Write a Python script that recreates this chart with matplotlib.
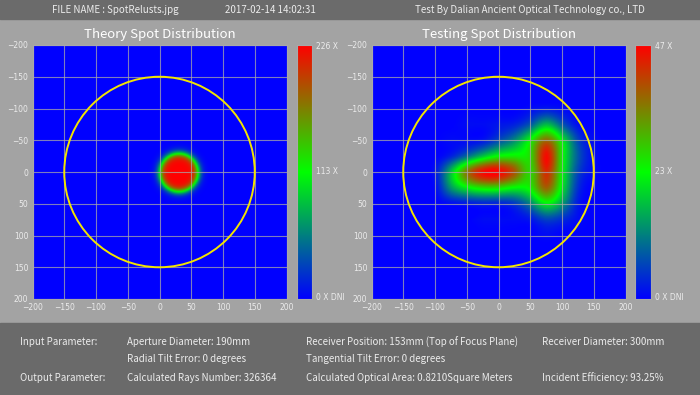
import numpy as np
import matplotlib
matplotlib.use("Agg")
import matplotlib.pyplot as plt
from matplotlib.colors import LinearSegmentedColormap
from matplotlib.patches import Rectangle, Circle

# --- data ------------------------------------------------------------------
axis_ticks = [-200, -150, -100, -50, 0, 50, 100, 150, 200]
receiver_radius = 150

theory_max = 226
theory_center = (30, 1)
theory_half_radius = 30      # where the level drops to half
theory_edge_width = 3.5

testing_max = 47
# measured level (x DNI) sampled every 25 mm; everything outside is 0
testing_x = [-125, -100, -75, -50, -25, 0, 25, 50, 75, 100, 125, 150]
testing_y = [-100, -75, -50, -25, 0, 25, 50, 75, 100]
testing_levels = [
    [0, 0, 0,  0,  0,  0,  0,  1,  2,  1, 0, 0],
    [0, 0, 0,  1,  1,  2,  3,  8, 17,  8, 1, 0],
    [0, 0, 1,  1,  2,  7, 13, 24, 37, 22, 6, 1],
    [0, 0, 3, 10, 18, 24, 25, 27, 46, 24, 8, 1],
    [0, 2, 18, 36, 46, 48, 39, 27, 43, 23, 6, 1],
    [0, 1, 14, 22, 26, 26, 23, 25, 38, 21, 4, 0],
    [0, 0, 1,  2,  3,  3,  5, 12, 22, 14, 2, 0],
    [0, 0, 0,  0,  1,  1,  1,  2,  6,  4, 1, 0],
    [0, 0, 0,  0,  0,  0,  0,  0,  1,  0, 0, 0],
]

header = ["FILE NAME : SpotRelusts.jpg", "2017-02-14 14:02:31",
          "Test By Dalian Ancient Optical Technology co., LTD"]
titles = ["Theory Spot Distribution", "Testing Spot Distribution"]
params = [
    ["Input Parameter:", "Aperture Diameter: 190mm",
     "Receiver Position: 153mm (Top of Focus Plane)", "Receiver Diameter: 300mm"],
    ["", "Radial Tilt Error: 0 degrees", "Tangential Tilt Error: 0 degrees", ""],
    ["Output Parameter:", "Calculated Rays Number: 326364",
     "Calculated Optical Area: 0.8210Square Meters", "Incident Efficiency: 93.25%"],
]

# --- fields -----------------------------------------------------------------
g = np.linspace(-200, 200, 401)
X, Y = np.meshgrid(g, g)
r = np.hypot(X - theory_center[0], Y - theory_center[1])
theory = theory_max / (1 + np.exp((r - theory_half_radius) / theory_edge_width))
theory_extent = [-200, 200, 200, -200]

step = 25
full = np.arange(-200, 201, step)
testing = np.zeros((len(full), len(full)))
i0 = list(full).index(testing_y[0])
j0 = list(full).index(testing_x[0])
testing[i0:i0 + len(testing_y), j0:j0 + len(testing_x)] = testing_levels
half = step / 2
testing_extent = [-200 - half, 200 + half, 200 + half, -200 - half]

cmap = LinearSegmentedColormap.from_list("bgr", [(0, 0, 1), (0, 1, 0), (1, 0, 0)])

BG = "#a3a3a3"
BAR = "#6b6b6b"
TXT = "#ececec"
GRID = "#a8a8a8"

fig = plt.figure(figsize=(7, 3.95), dpi=100, facecolor=BG)
fig.patches.append(Rectangle((0, 1 - 19 / 395), 1, 19 / 395, transform=fig.transFigure,
                             color=BAR, zorder=0))
fig.patches.append(Rectangle((0, 0), 1, 72 / 395, transform=fig.transFigure,
                             color="#6a6a6a", zorder=0))

hx = [52, 225, 415]
for x, s in zip(hx, header):
    fig.text(x / 700, 1 - 10 / 395, s, color=TXT, fontsize=7, va="center",
             family="Noto Sans CJK SC")


def panel(ax_rect, cb_rect, data, extent, interp, vmax, title, cb_labels):
    ax = fig.add_axes(ax_rect)
    ax.set_facecolor("blue")
    ax.imshow(np.clip(data, 0, vmax), cmap=cmap, vmin=0, vmax=vmax, extent=extent,
              origin="upper", interpolation=interp, zorder=0)
    ax.set_xlim(-200, 200)
    ax.set_ylim(200, -200)
    ax.set_xticks(axis_ticks)
    ax.set_yticks(axis_ticks)
    ax.grid(True, color=GRID, lw=0.8, alpha=0.75)
    ax.set_axisbelow(False)
    ax.tick_params(length=0, labelsize=5.5, labelcolor=TXT, pad=3)
    for sp in ax.spines.values():
        sp.set_color(GRID)
        sp.set_linewidth(0.8)
    ax.add_patch(Circle((0, 0), receiver_radius, fill=False, ec="#f2e400", lw=1.4, zorder=3))
    ax.set_title(title, color="white", fontsize=9.5, pad=5, family="Noto Sans CJK SC")

    cax = fig.add_axes(cb_rect)
    cax.imshow(np.linspace(vmax, 0, 256)[:, None], cmap=cmap, vmin=0, vmax=vmax,
               aspect="auto", extent=[0, 1, 0, 1])
    cax.set_xticks([])
    cax.set_yticks([])
    for sp in cax.spines.values():
        sp.set_color(GRID)
        sp.set_linewidth(0.8)
    for frac, lab in zip([0.995, 0.5, 0.005], cb_labels):
        cax.text(1.25, frac, lab, transform=cax.transAxes, color=TXT, fontsize=5.5,
                 va="center", ha="left")


H = 395
W = 700
ax_b = 1 - 299 / H
ax_h = 254 / H
panel([32 / W, ax_b, 255 / W, ax_h], [297 / W, ax_b, 15 / W, ax_h], theory, theory_extent,
      "bilinear", theory_max, titles[0],
      [f"{theory_max} X", f"{theory_max // 2} X", "0 X DNI"])
panel([371 / W, ax_b, 255 / W, ax_h], [635 / W, ax_b, 16 / W, ax_h], testing, testing_extent,
      "spline16", testing_max, titles[1],
      [f"{testing_max} X", f"{testing_max // 2} X", "0 X DNI"])

col_x = [20, 127, 306, 542]
row_y = [342, 359, 378]
for yy, row in zip(row_y, params):
    for xx, s in zip(col_x, row):
        if s:
            fig.text(xx / W, 1 - yy / H, s, color=TXT, fontsize=7, va="center",
                     family="Noto Sans CJK SC")

fig.savefig("out.png", dpi=100, facecolor=BG)
